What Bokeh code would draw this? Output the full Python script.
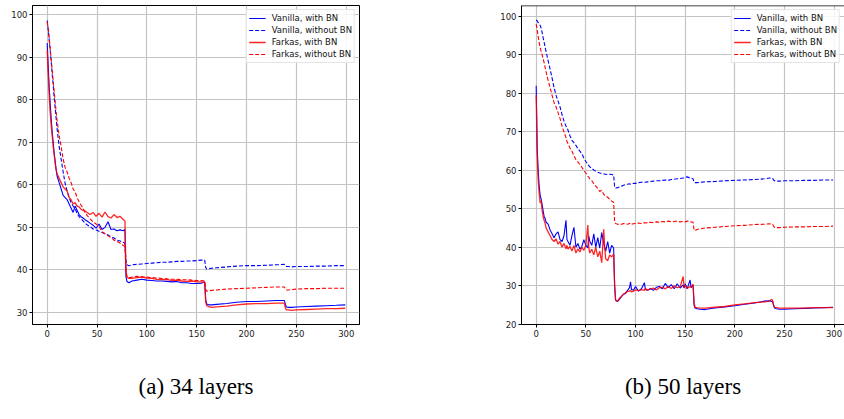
from bokeh.plotting import figure
from bokeh.models import Range1d, FixedTicker, Legend, LegendItem, Span
from bokeh.layouts import row
from bokeh.embed import file_html
from bokeh.resources import INLINE

# ---------------- data: (a) 34 layers ----------------
epochs_a = [0, 1, 2, 3, 4, 5, 6, 7, 8, 9, 10,
            12, 14, 16, 18, 20, 22, 24, 26, 28, 30, 32, 34, 36, 38, 40,
            43, 46, 49, 52, 55, 58, 61, 64, 67, 70, 73, 76,
            78, 79, 80,
            82, 85,
            90, 95, 100, 105, 110, 115, 120, 125, 130, 135, 140, 145, 150, 155,
            158, 159, 160, 162, 165, 170,
            180, 190, 200, 210, 220, 230,
            238, 239, 240, 242, 245, 250,
            260, 270, 280, 290, 299]

vanilla_bn_a = [93.3, 88.0, 83.0, 79.0, 75.5, 72.5, 70.0, 67.5, 65.5, 63.5, 62.0,
                60.5, 59.0, 57.5, 57.0, 56.5, 55.5, 54.5, 53.5, 55.0, 54.0, 53.0, 52.5, 52.2, 51.8, 51.5,
                51.0, 50.5, 49.8, 50.8, 49.5, 50.0, 51.3, 49.5, 49.6, 49.2, 49.4, 49.2,
                49.5, 38.5, 37.3,
                37.0, 37.4,
                37.6, 37.8, 37.6, 37.5, 37.4, 37.4, 37.3, 37.2, 37.3, 37.0, 37.0, 36.8, 36.8, 36.9,
                37.2, 33.0, 32.0, 31.8, 31.8, 31.9,
                32.1, 32.4, 32.6, 32.6, 32.7, 32.8,
                32.8, 31.8, 31.3, 31.2, 31.2, 31.3,
                31.4, 31.5, 31.6, 31.7, 31.8]

vanilla_nobn_a = [98.6, 96.5, 94.0, 91.5, 89.0, 86.0, 83.5, 80.5, 78.0, 75.5, 73.0,
                  69.0, 66.0, 63.0, 60.3, 58.5, 57.0, 55.8, 55.0, 54.3, 53.3, 52.5, 52.0, 51.5, 51.0, 50.6,
                  50.2, 49.6, 49.4, 49.1, 48.8, 48.5, 48.2, 47.8, 47.5, 47.0, 46.8, 46.5,
                  46.3, 42.0, 41.2,
                  41.0, 41.2,
                  41.3, 41.4, 41.5, 41.6, 41.7, 41.8, 41.8, 41.9, 42.0, 42.0, 42.1, 42.1, 42.2, 42.3,
                  42.3, 40.6, 40.2, 40.3, 40.4, 40.5,
                  40.7, 40.9, 41.0, 41.0, 41.1, 41.2,
                  41.3, 40.9, 40.8, 40.8, 40.7, 40.8,
                  40.8, 40.9, 40.9, 41.0, 41.0]

farkas_bn_a = [91.7, 86.0, 81.0, 77.0, 74.0, 71.5, 69.0, 67.0, 65.0, 63.5, 62.5,
               61.5, 60.5, 59.5, 59.0, 58.5, 57.0, 56.5, 55.5, 55.8, 55.0, 54.8, 54.2, 54.0, 53.8, 53.5,
               53.0, 53.5, 52.6, 53.3, 52.4, 53.6, 52.5, 52.2, 53.0, 52.3, 52.6, 51.9,
               51.5, 40.0, 38.3,
               38.0, 38.0,
               38.2, 38.3, 38.1, 38.0, 37.8, 37.7, 37.8, 37.5, 37.6, 37.4, 37.3, 37.4, 37.2, 37.2,
               37.0, 32.5, 31.6, 31.4, 31.2, 31.3,
               31.5, 31.8, 32.0, 32.1, 32.1, 32.2,
               32.2, 31.0, 30.6, 30.6, 30.5, 30.6,
               30.7, 30.8, 30.9, 30.9, 31.0]

farkas_nobn_a = [98.2, 96.8, 94.5, 92.0, 89.5, 87.0, 84.5, 82.0, 79.5, 77.0, 75.0,
                 71.5, 69.0, 66.0, 64.0, 63.0, 61.5, 60.5, 59.0, 58.3, 57.0, 56.0, 55.2, 54.5, 53.5, 52.8,
                 52.0, 51.3, 50.8, 50.2, 49.0, 48.5, 48.0, 47.6, 47.0, 46.7, 46.3, 45.8,
                 45.5, 39.5, 38.3,
                 38.2, 38.3,
                 38.5, 38.4, 38.3, 38.2, 38.1, 38.0, 37.9, 37.8, 37.8, 37.7, 37.7, 37.6, 37.5, 37.5,
                 37.4, 35.5, 35.0, 35.1, 35.2, 35.3,
                 35.5, 35.6, 35.7, 35.8, 35.9, 36.0,
                 36.0, 35.5, 35.3, 35.3, 35.4, 35.5,
                 35.6, 35.6, 35.7, 35.7, 35.7]

# ---------------- data: (b) 50 layers ----------------
epochs_b = [0, 1, 2, 3, 4, 5, 6, 7, 8, 9, 10,
            12, 14, 16, 18, 20, 22, 24, 26, 28, 30,
            31, 32,
            34, 36, 38, 40, 42, 44, 46, 48, 50, 52,
            53, 54,
            56, 58, 60, 62, 64, 66, 68,
            69, 70,
            72, 74, 76, 78,
            79, 80,
            82, 84, 86, 88, 90, 92, 94,
            95, 96, 98, 100,
            103, 106, 109,
            110, 112,
            115, 118, 121, 124, 127, 130, 133, 136, 139, 142, 145, 148,
            149, 150, 152, 155, 156, 158,
            159, 160, 162, 165, 170,
            180, 190, 200, 210, 220, 230,
            235, 237, 238, 239, 240, 242, 245, 250,
            260, 270, 280, 290, 299]

vanilla_bn_b = [82.0, 66.0, 60.0, 56.0, 53.5, 52.5, 51.0, 49.5, 48.0, 47.5, 46.5,
                46.0, 44.5, 43.5, 42.5, 43.5, 44.0, 42.0, 41.5, 43.0, 47.0,
                42.0, 41.5,
                40.5, 43.0, 45.2, 40.0, 41.0, 39.5, 40.2, 42.0, 40.5, 39.8,
                43.0, 41.5,
                40.5, 43.5, 40.0, 42.5, 39.8, 43.8, 41.0,
                40.0, 39.0,
                41.5, 38.5, 40.5, 39.8,
                30.0, 26.2,
                25.9, 26.5, 27.2, 27.8, 28.0, 28.8, 29.5,
                31.0, 29.0, 28.8, 29.8,
                28.6, 29.2, 30.8,
                29.0, 28.8,
                29.3, 28.8, 29.6, 29.8, 29.2, 30.6, 29.5, 30.3, 29.2, 30.5, 29.4, 30.2,
                29.4, 30.5, 29.2, 31.5, 29.5, 30.2,
                25.0, 24.2, 24.0, 23.9, 23.8,
                24.2, 24.5, 24.8, 25.2, 25.5, 26.0,
                26.1, 25.9, 26.0, 25.0, 24.2, 24.0, 23.9, 23.9,
                24.0, 24.1, 24.2, 24.3, 24.4]

vanilla_nobn_b = [99.1, 98.9, 98.4, 98.0, 97.7, 97.0, 95.8, 94.5, 93.3, 92.0, 90.8,
                  88.5, 86.3, 84.0, 81.5, 79.5, 78.0, 76.5, 74.5, 72.8, 71.5,
                  71.0, 70.5,
                  69.0, 67.8, 67.2, 66.5, 65.6, 65.0, 64.3, 63.2, 62.3, 61.5,
                  61.2, 60.9,
                  60.5, 60.1, 59.8, 59.5, 59.3, 59.2, 59.1,
                  59.0, 59.0,
                  58.9, 59.0, 58.9, 58.8,
                  55.6, 55.4,
                  55.5, 55.7, 55.9, 56.1, 56.3, 56.4, 56.5,
                  56.4, 56.5, 56.6, 56.6,
                  56.8, 56.9, 57.0,
                  56.9, 57.0,
                  57.1, 57.2, 57.3, 57.3, 57.4, 57.5, 57.4, 57.6, 57.7, 57.8, 57.9, 58.0,
                  58.0, 58.1, 58.3, 58.0, 57.9, 57.8,
                  56.9, 56.8, 56.8, 56.9, 57.0,
                  57.1, 57.3, 57.4, 57.5, 57.6, 57.8,
                  58.0, 58.0, 58.0, 57.5, 57.3, 57.2, 57.2, 57.3,
                  57.3, 57.4, 57.4, 57.5, 57.5]

farkas_bn_b = [79.5, 64.0, 57.5, 54.0, 51.5, 52.0, 49.5, 48.0, 47.0, 46.2, 45.0,
               44.0, 43.0, 42.0, 41.5, 42.2, 40.8, 41.5, 40.0, 41.0, 39.6,
               40.5, 39.5,
               40.2, 39.0, 40.5, 38.5, 39.6, 38.8, 40.0, 39.2, 40.5, 45.8,
               40.0, 38.5,
               39.5, 38.0, 40.0, 37.5, 39.0, 36.0, 44.7,
               40.0, 37.0,
               36.5, 38.0, 37.5, 38.2,
               30.0, 26.2,
               26.0, 26.8, 27.3, 27.8, 28.2, 28.5, 28.6,
               28.8, 28.4, 28.6, 28.9,
               28.7, 29.0, 28.8,
               29.3, 28.9,
               29.1, 29.4, 28.9, 29.5, 29.6, 29.2, 29.8, 29.3, 30.0, 29.5, 29.7, 32.4,
               29.5, 30.2, 29.3, 29.8, 29.6, 30.4,
               25.5, 24.4, 24.3, 24.2, 24.2,
               24.4, 24.6, 25.0, 25.3, 25.6, 25.8,
               26.0, 26.5, 26.2, 25.0, 24.4, 24.3, 24.2, 24.2,
               24.2, 24.2, 24.3, 24.3, 24.3]

farkas_nobn_b = [98.0, 96.5, 94.8, 93.2, 92.0, 90.8, 90.0, 89.0, 88.0, 86.8, 85.6,
                 83.4, 81.5, 79.5, 77.6, 76.5, 75.0, 73.5, 71.5, 70.0, 68.5,
                 67.5, 67.0,
                 65.8, 65.0, 63.8, 62.8, 62.2, 61.5, 60.8, 60.0, 59.3, 58.5,
                 58.2, 57.8,
                 57.3, 56.5, 55.9, 55.3, 54.5, 54.8, 53.8,
                 53.5, 53.3,
                 53.0, 52.5, 52.0, 51.7,
                 46.5, 46.2,
                 46.0, 45.9, 46.0, 46.2, 46.1, 46.0, 46.2,
                 46.3, 46.0, 46.1, 46.2,
                 46.3, 46.2, 46.4,
                 46.3, 46.4,
                 46.5, 46.4, 46.6, 46.5, 46.7, 46.6, 46.8, 46.6, 46.7, 46.8, 46.6, 46.7,
                 46.7, 46.6, 46.8, 46.7, 46.6, 46.5,
                 44.5, 44.3, 44.6, 44.8, 45.0,
                 45.2, 45.4, 45.6, 45.7, 45.9, 46.0,
                 46.1, 46.0, 46.0, 45.5, 45.2, 45.1, 45.1, 45.2,
                 45.3, 45.3, 45.4, 45.4, 45.5]

x_ticks = [0, 50, 100, 150, 200, 250, 300]
y_ticks_a = [30, 40, 50, 60, 70, 80, 90, 100]
y_ticks_b = [20, 30, 40, 50, 60, 70, 80, 90, 100]
series_labels = ["Vanilla, with BN", "Vanilla, without BN", "Farkas, with BN", "Farkas, without BN"]
captions = ["(a) 34 layers", "(b) 50 layers"]

STYLES = [("#0000ff", "solid", 1.1, 1.0),
          ("#0000ff", "4 2", 1.1, 1.0),
          ("#ff0000", "solid", 1.3, 0.85),
          ("#ff0000", "4 2", 1.1, 1.0)]


def make_panel(epochs, series, yticks, xr, yr, caption, width, mbl, mbr, full_outline):
    p = figure(width=width, height=419, x_range=Range1d(*xr), y_range=Range1d(*yr),
               output_backend="svg", toolbar_location=None,
               min_border_left=mbl, min_border_right=mbr,
               min_border_top=5, min_border_bottom=95)
    p.background_fill_color = "white"
    p.border_fill_color = "white"
    if full_outline:
        p.outline_line_color = "black"
        p.outline_line_width = 1
    else:
        p.outline_line_color = None
        p.add_layout(Span(location=yr[1], dimension="width",
                          line_color="black", line_width=1.5))

    items = []
    for ys, lab, (c, dash, lw, alpha) in zip(series, series_labels, STYLES):
        r = p.line(epochs, ys, line_color=c, line_dash=dash, line_width=lw, line_alpha=alpha)
        items.append(LegendItem(label=lab, renderers=[r]))

    leg = Legend(items=items, location="top_right")
    leg.label_text_font = "DejaVu Sans"
    leg.label_text_font_size = "8.5px"
    leg.label_text_color = "#111111"
    leg.glyph_width = 17
    leg.glyph_height = 12
    leg.label_height = 12
    leg.label_standoff = 6
    leg.spacing = 0
    leg.padding = 2
    leg.margin = 4
    leg.border_line_color = "#cccccc"
    leg.border_line_width = 1
    leg.background_fill_alpha = 0.85
    p.add_layout(leg)

    for ax, ticks in ((p.xaxis, x_ticks), (p.yaxis, yticks)):
        ax.ticker = FixedTicker(ticks=ticks)
        ax.major_label_text_font = "DejaVu Sans"
        ax.major_label_text_font_size = "8.5px"
        ax.major_label_text_color = "#222222"
        ax.major_tick_out = 3
        ax.major_tick_in = 0
        ax.minor_tick_line_color = None
        ax.major_tick_line_color = "black"
        ax.axis_line_color = "black"
        ax.major_label_standoff = 2
    p.xgrid.ticker = FixedTicker(ticks=x_ticks)
    p.ygrid.ticker = FixedTicker(ticks=yticks)
    for g in (p.xgrid, p.ygrid):
        g.grid_line_color = "#c4c4c4"
        g.grid_line_width = 1.2

    p.xaxis.axis_label = caption
    p.xaxis.axis_label_text_font = "Liberation Serif"
    p.xaxis.axis_label_text_font_size = "23px"
    p.xaxis.axis_label_text_font_style = "normal"
    p.xaxis.axis_label_text_color = "black"
    p.xaxis.axis_label_standoff = 34
    return p


p1 = make_panel(epochs_a, [vanilla_bn_a, vanilla_nobn_a, farkas_bn_a, farkas_nobn_a],
                y_ticks_a, (-14.75, 313.3), (27.18, 102.11), captions[0],
                width=470, mbl=32, mbr=111, full_outline=True)
p2 = make_panel(epochs_b, [vanilla_bn_b, vanilla_nobn_b, farkas_bn_b, farkas_nobn_b],
                y_ticks_b, (-14.8, 310.5), (19.92, 102.86), captions[1],
                width=374, mbl=51, mbr=0, full_outline=False)

layout = row(p1, p2)
open("out.html", "w").write(file_html(layout, INLINE))
